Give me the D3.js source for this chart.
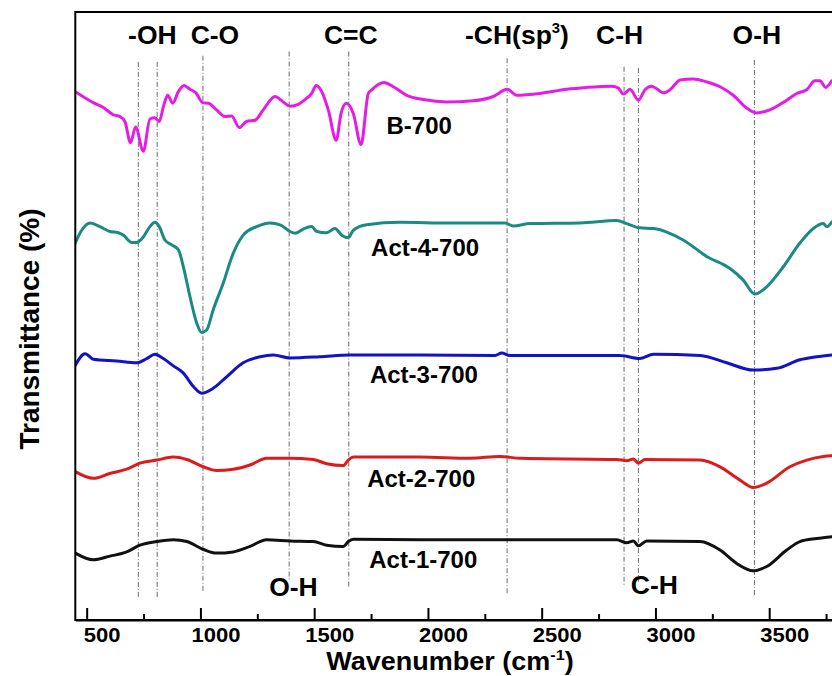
<!DOCTYPE html>
<html>
<head>
<meta charset="utf-8">
<script src="https://cdn.jsdelivr.net/npm/d3@7"></script>
<style>
  html, body { margin: 0; padding: 0; background: #fff; }
  svg { display: block; }
  text { font-family: "Liberation Sans", Arial, sans-serif; font-weight: bold; fill: #000; }
</style>
</head>
<body>
<svg id="chart" width="832" height="676"></svg>
<script>
// ---------------- DATA ----------------
const seriesNames = ["B-700", "Act-4-700", "Act-3-700", "Act-2-700", "Act-1-700"];
const seriesColors = ["#e51ce5", "#1b8a80", "#1212c6", "#dc1c1c", "#111111"];

// [wavenumber (cm-1), transmittance (arb. offset units)]
const b700 = [[450,86.9],[529,85.1],[573,84.3],[617,83.1],[646,82.8],[668,82.0],[693,78.5],[715,81.1],[749,77.1],[778,82.4],[800,82.6],[819,82.0],[837,84.4],[856,86.3],[878,85.0],[903,86.9],[928,87.9],[954,87.3],[980,86.7],[1010,85.1],[1035,85.0],[1071,83.9],[1108,82.8],[1137,82.9],[1171,81.0],[1203,82.0],[1240,82.2],[1276,83.9],[1328,86.1],[1364,85.2],[1394,84.5],[1430,84.8],[1460,85.6],[1489,86.6],[1509,87.9],[1533,86.9],[1562,83.9],[1597,78.9],[1618,83.3],[1641,85.0],[1672,83.3],[1706,78.2],[1738,86.6],[1753,87.2],[1807,88.4],[1848,87.7],[1907,86.3],[1980,85.6],[2082,85.2],[2199,85.4],[2287,86.1],[2349,87.3],[2390,86.3],[2493,86.6],[2610,87.3],[2698,87.6],[2808,87.8],[2837,87.5],[2859,86.5],[2888,87.3],[2925,85.5],[2954,87.2],[2983,87.8],[3012,87.2],[3034,86.7],[3064,87.2],[3108,88.8],[3166,89.0],[3225,88.5],[3284,87.7],[3342,86.3],[3401,84.2],[3445,83.4],[3503,83.9],[3577,85.5],[3621,86.6],[3665,87.2],[3701,88.7],[3723,88.7],[3748,87.6],[3775,88.7]];

const act4 = [[450,62.0],[478,64.1],[515,65.3],[558,64.7],[602,63.9],[639,63.7],[661,63.3],[698,62.1],[720,62.1],[749,63.0],[778,64.7],[800,65.4],[819,64.7],[844,62.5],[874,61.7],[903,60.9],[925,58.1],[954,53.2],[984,48.8],[1005,47.3],[1027,47.7],[1056,51.0],[1100,55.4],[1144,60.3],[1188,63.3],[1247,64.7],[1306,65.3],[1350,65.0],[1394,63.9],[1416,63.6],[1452,64.3],[1489,64.7],[1511,63.9],[1555,63.7],[1591,64.4],[1621,63.3],[1650,62.9],[1672,64.1],[1731,65.0],[1877,65.4],[2097,65.3],[2339,65.3],[2375,64.8],[2449,65.2],[2669,65.3],[2830,65.7],[2874,65.2],[2932,64.5],[2991,64.4],[3122,62.5],[3225,59.8],[3328,57.8],[3386,55.9],[3437,53.6],[3489,54.8],[3562,58.1],[3635,62.0],[3694,64.4],[3738,65.2],[3753,64.7],[3776,65.5]];

const act3 = [[450,41.9],[493,43.8],[529,42.9],[632,42.6],[720,42.3],[764,43.0],[800,43.7],[837,43.0],[881,41.8],[925,40.6],[969,38.4],[1005,37.3],[1056,38.1],[1115,40.0],[1188,42.3],[1262,43.3],[1320,43.6],[1394,43.1],[1525,43.3],[1657,43.6],[1965,43.6],[2295,43.5],[2324,43.9],[2361,43.5],[2843,43.5],[2931,43.0],[2991,43.7],[3197,43.5],[3313,42.3],[3430,41.1],[3533,41.4],[3635,42.8],[3709,43.3],[3776,43.6]];

const act2 = [[450,24.4],[529,23.3],[602,24.1],[676,24.8],[734,25.8],[808,26.3],[881,26.8],[940,26.4],[1013,25.2],[1071,24.6],[1144,24.8],[1218,25.5],[1291,26.6],[1394,26.6],[1496,26.4],[1555,25.7],[1628,25.4],[1650,26.3],[1672,26.8],[1965,26.8],[2185,26.6],[2317,26.9],[2405,26.6],[2830,26.4],[2874,26.2],[2903,26.5],[2925,25.8],[2954,26.4],[3196,26.3],[3284,25.2],[3372,23.0],[3430,21.8],[3489,22.5],[3591,25.2],[3665,26.3],[3738,26.9],[3776,27.0]];

const act1 = [[450,11.0],[529,9.9],[602,10.5],[676,11.2],[734,12.3],[808,12.9],[881,13.2],[940,12.9],[1013,11.6],[1071,11.0],[1144,11.2],[1218,12.1],[1291,13.2],[1394,13.0],[1496,12.9],[1555,12.3],[1628,12.1],[1650,12.9],[1672,13.3],[1965,13.2],[2317,13.2],[2830,13.2],[2874,12.7],[2903,13.0],[2925,12.2],[2962,13.0],[3196,12.9],[3284,11.5],[3357,9.3],[3430,8.1],[3489,8.8],[3577,11.5],[3635,12.9],[3709,13.4],[3776,13.7]];

const seriesData = [b700, act4, act3, act2, act1];
// series label anchors (left x in cm-1, baseline in T units)
const seriesLabelX = [1818, 1750, 1745, 1733, 1742];
const seriesLabelY = [80.0, 59.8, 39.0, 21.9, 8.5];

// reference (dash-dot) lines
const refWavenumbers = [727, 810, 1011, 1390, 1652, 2348, 2862, 2925, 3435];
const refTop =         [91.8, 91.8, 92.8, 93.5, 93.5, 92.4, 91.0, 90.8, 92.1];
const refBottom =      [3.8, 3.8, 4.5, 6.3, 5.3, 4.4, 5.8, 6.3, 3.8];

// band annotations (left x in cm-1, baseline in T units); ^ marks a superscript
const annoText = ["-OH", "C-O", "C=C", "-CH(sp^3^)", "C-H", "O-H", "O-H", "C-H"];
const annoX =    [682, 957, 1543, 2163, 2739, 3339, 1302, 2892];
const annoY =    [94.7, 94.7, 94.7, 94.7, 94.7, 94.7, 3.9, 4.3];

// axis
const xDomain = [450, 4000];
const xMajorTicks = [500, 1000, 1500, 2000, 2500, 3000, 3500];
const xMinorTicks = [750, 1250, 1750, 2250, 2750, 3250, 3750];
const xTitle = "Wavenumber (cm";
const yTitle = "Transmittance (%)";

// ---------------- CHART ----------------
const svg = d3.select("#chart");
const pLeft = 75.3, pRight = 882.95, pTop = 12, pBottom = 620;

const x = d3.scaleLinear().domain(xDomain).range([pLeft, pRight]);
const y = d3.scaleLinear().domain([0, 100]).range([pBottom, pTop]);

svg.append("defs").append("clipPath").attr("id", "plotclip")
  .append("rect").attr("x", pLeft).attr("y", pTop).attr("width", pRight - pLeft).attr("height", pBottom - pTop);

// reference lines
svg.append("g").selectAll("line").data(refWavenumbers).join("line")
  .attr("x1", d => x(d)).attr("x2", d => x(d))
  .attr("y1", (d, i) => y(refTop[i])).attr("y2", (d, i) => y(refBottom[i]))
  .attr("stroke", "#6a6a6a").attr("stroke-width", 1)
  .attr("stroke-dasharray", "5,2,1,2");

// spectra
const line = d3.line().x(d => x(d[0])).y(d => y(d[1])).curve(d3.curveMonotoneX);
svg.append("g").attr("clip-path", "url(#plotclip)")
  .selectAll("path").data(seriesData).join("path")
  .attr("d", line).attr("fill", "none")
  .attr("stroke", (d, i) => seriesColors[i])
  .attr("stroke-width", 3).attr("stroke-linejoin", "round").attr("stroke-linecap", "round");

// frame
svg.append("rect").attr("x", pLeft).attr("y", pTop).attr("width", pRight - pLeft).attr("height", pBottom - pTop)
  .attr("fill", "none").attr("stroke", "#000").attr("stroke-width", 2);

// x axis
const xAxis = d3.axisBottom(x).tickValues(xMajorTicks).tickSizeInner(-12).tickSizeOuter(0).tickPadding(0);
const gx = svg.append("g").attr("transform", `translate(0,${pBottom})`).call(xAxis);
gx.select(".domain").attr("stroke-width", 2);
gx.selectAll(".tick line").attr("stroke-width", 2);
gx.selectAll(".tick text").text(d => d).attr("y", 0).attr("dy", 0)
  .attr("fill", "#000")
  .attr("transform", "translate(15,22) scale(1.1,1)")
  .style("font-size", "20px").style("font-family", "'Liberation Sans', Arial, sans-serif").style("font-weight", "bold");
const xAxisMinor = d3.axisBottom(x).tickValues(xMinorTicks).tickSizeInner(-6).tickSizeOuter(0).tickFormat("");
const gxm = svg.append("g").attr("transform", `translate(0,${pBottom})`).call(xAxisMinor);
gxm.select(".domain").remove();
gxm.selectAll(".tick line").attr("stroke-width", 2);

// axis titles
const xt = svg.append("text").attr("transform", "translate(450,670) scale(1.08,1)")
  .attr("text-anchor", "middle").style("font-size", "25px");
xt.append("tspan").text(xTitle);
xt.append("tspan").text("-1").attr("dy", -10).style("font-size", "15px");
xt.append("tspan").text(")").attr("dy", 10);

svg.append("text").attr("transform", "translate(39,329) rotate(-90)")
  .attr("text-anchor", "middle").style("font-size", "28px").text(yTitle);

// series labels
svg.append("g").selectAll("text").data(seriesNames).join("text")
  .attr("x", (d, i) => x(seriesLabelX[i])).attr("y", (d, i) => y(seriesLabelY[i]))
  .style("font-size", "24px").text(d => d);

// annotations
annoText.forEach((t, i) => {
  const g = svg.append("text")
    .attr("transform", `translate(${x(annoX[i])},${y(annoY[i])}) scale(1.06,1)`)
    .style("font-size", "25px");
  const parts = t.split("^");
  parts.forEach((p, k) => {
    if (!p) return;
    if (k % 2 === 1) {
      g.append("tspan").text(p).attr("dy", -11).style("font-size", "14px");
    } else {
      g.append("tspan").text(p).attr("dy", k > 0 ? 11 : 0);
    }
  });
});
</script>
</body>
</html>
